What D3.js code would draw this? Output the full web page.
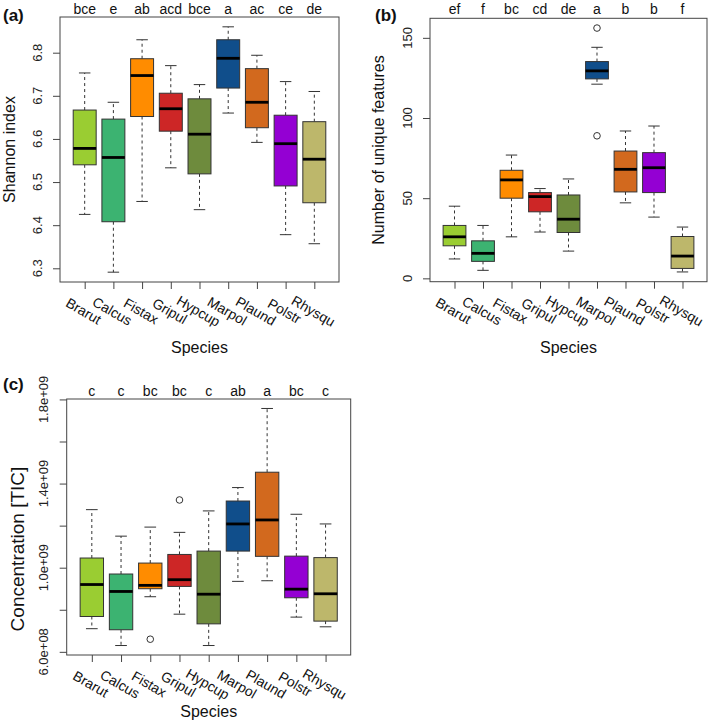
<!DOCTYPE html>
<html>
<head>
<meta charset="utf-8">
<script src="https://cdn.jsdelivr.net/npm/d3@7/dist/d3.min.js"></script>
<style>
  html, body { margin: 0; padding: 0; background: #fff; }
  svg { display: block; font-family: "Liberation Sans", Arial, Helvetica, sans-serif; }
</style>
</head>
<body>
<svg id="chart" width="709" height="724"></svg>
<script>
// ---------- data ----------
const categories = ["Brarut","Calcus","Fistax","Gripul","Hypcup","Marpol","Plaund","Polstr","Rhysqu"];
const boxColors = ["#9ACD32","#3CB371","#FF8C00","#CD2626","#6E8B3D","#104E8B","#D2691E","#9400D3","#BDB76B"];

// (a) Shannon index
const shannonLow  = [6.425, 6.291, 6.455, 6.533, 6.436, 6.660, 6.592, 6.378, 6.357];
const shannonQ1   = [6.540, 6.408, 6.652, 6.618, 6.519, 6.718, 6.626, 6.491, 6.452];
const shannonMed  = [6.578, 6.557, 6.747, 6.670, 6.611, 6.787, 6.685, 6.589, 6.553];
const shannonQ3   = [6.667, 6.646, 6.786, 6.706, 6.693, 6.830, 6.763, 6.655, 6.640];
const shannonHigh = [6.753, 6.685, 6.830, 6.770, 6.726, 6.860, 6.794, 6.733, 6.710];
const shannonOut  = [[], [], [], [], [], [], [], [], []];
const shannonLetters = ["bce","e","ab","acd","bce","a","ac","ce","de"];
const shannonTicks = [6.3, 6.4, 6.5, 6.6, 6.7, 6.8];
const shannonTickLabels = ["6.3","6.4","6.5","6.6","6.7","6.8"];

// (b) Number of unique features
const featLow  = [12.1, 5.0, 25.9, 28.9, 17.0, 121.1, 47.1, 38.2, 4.0];
const featQ1   = [20.3, 10.6, 50.0, 41.5, 28.6, 124.4, 53.9, 53.5, 6.2];
const featMed  = [25.9, 15.6, 61.4, 51.0, 36.9, 129.4, 68.0, 69.0, 13.9];
const featQ3   = [33.0, 23.4, 67.4, 53.5, 52.0, 135.2, 79.4, 78.4, 26.1];
const featHigh = [45.0, 33.0, 76.9, 56.0, 62.0, 144.1, 91.9, 95.0, 32.0];
const featOut  = [[], [], [], [], [], [156.1, 88.9], [], [], []];
const featLetters = ["ef","f","bc","cd","de","a","b","b","f"];
const featTicks = [0, 50, 100, 150];
const featTickLabels = ["0","50","100","150"];

// (c) Concentration [TIC]
const ticLow  = [0.710e9, 0.630e9, 0.862e9, 0.779e9, 0.630e9, 0.935e9, 0.938e9, 0.765e9, 0.719e9];
const ticQ1   = [0.768e9, 0.705e9, 0.900e9, 0.911e9, 0.733e9, 1.079e9, 1.054e9, 0.857e9, 0.746e9];
const ticMed  = [0.920e9, 0.887e9, 0.916e9, 0.943e9, 0.874e9, 1.208e9, 1.227e9, 0.898e9, 0.876e9];
const ticQ3   = [1.046e9, 0.970e9, 1.022e9, 1.063e9, 1.079e9, 1.317e9, 1.454e9, 1.055e9, 1.048e9];
const ticHigh = [1.276e9, 1.150e9, 1.193e9, 1.168e9, 1.270e9, 1.381e9, 1.757e9, 1.254e9, 1.208e9];
const ticOut  = [[], [], [0.660e9], [1.322e9], [], [], [], [], []];
const ticLetters = ["c","c","bc","bc","c","ab","a","bc","c"];
const ticTicks = [6e8, 8e8, 1.0e9, 1.2e9, 1.4e9, 1.6e9, 1.8e9];
const ticTickLabels = ["6.0e+08","","1.0e+09","","1.4e+09","","1.8e+09"];

// ---------- drawing ----------
const svg = d3.select("#chart");
const INK = "#333";

function panel(cfg) {
  const g = svg.append("g");
  const n = categories.length;
  const x = d3.scaleLinear().domain([0.5 - 0.04 * n, n + 0.5 + 0.04 * n]).range([cfg.left, cfg.right]);
  const all = [].concat(cfg.low, cfg.high, cfg.q1, cfg.q3, cfg.out.flat());
  const ext = d3.extent(all);
  const pad = (ext[1] - ext[0]) * 0.04;
  const y = d3.scaleLinear().domain([ext[0] - pad, ext[1] + pad]).range([cfg.bottom, cfg.top]);
  const bw = (x(1) - x(0)) * 0.8;
  const sw = bw * 0.5;

  categories.forEach((c, i) => {
    const cx = x(i + 1);
    g.append("line").attr("x1", cx).attr("x2", cx).attr("y1", y(cfg.q3[i])).attr("y2", y(cfg.high[i]))
      .attr("stroke", INK).attr("stroke-width", 1).attr("stroke-dasharray", "3,3");
    g.append("line").attr("x1", cx).attr("x2", cx).attr("y1", y(cfg.q1[i])).attr("y2", y(cfg.low[i]))
      .attr("stroke", INK).attr("stroke-width", 1).attr("stroke-dasharray", "3,3");
    [cfg.high[i], cfg.low[i]].forEach(v => {
      g.append("line").attr("x1", cx - sw / 2).attr("x2", cx + sw / 2).attr("y1", y(v)).attr("y2", y(v))
        .attr("stroke", INK).attr("stroke-width", 1);
    });
    g.append("rect").attr("x", cx - bw / 2).attr("width", bw)
      .attr("y", y(cfg.q3[i])).attr("height", y(cfg.q1[i]) - y(cfg.q3[i]))
      .attr("fill", boxColors[i]).attr("stroke", INK).attr("stroke-width", 1);
    g.append("line").attr("x1", cx - bw / 2).attr("x2", cx + bw / 2)
      .attr("y1", y(cfg.med[i])).attr("y2", y(cfg.med[i]))
      .attr("stroke", "#000").attr("stroke-width", 2.8);
    cfg.out[i].forEach(v => {
      g.append("circle").attr("cx", cx).attr("cy", y(v)).attr("r", 3.3)
        .attr("fill", "none").attr("stroke", INK).attr("stroke-width", 1);
    });
    g.append("text").attr("x", cx).attr("y", cfg.letterY).attr("text-anchor", "middle")
      .attr("font-size", 14).attr("fill", "#111").text(cfg.letters[i]);
  });

  g.append("rect").attr("x", cfg.left).attr("y", cfg.top)
    .attr("width", cfg.right - cfg.left).attr("height", cfg.bottom - cfg.top)
    .attr("fill", "none").attr("stroke", "#444").attr("stroke-width", 1);

  const yAxis = d3.axisLeft(y).tickValues(cfg.ticks).tickSize(7).tickFormat("");
  const ya = g.append("g").attr("transform", `translate(${cfg.left},0)`).call(yAxis);
  ya.select(".domain").remove();
  ya.selectAll(".tick line").attr("stroke", "#444");
  cfg.ticks.forEach((t, k) => {
    if (!cfg.tickLabels[k]) return;
    g.append("text")
      .attr("transform", `translate(${cfg.left - 18.5},${y(t)}) rotate(-90)`)
      .attr("text-anchor", "middle").attr("font-size", 13).attr("fill", "#222")
      .text(cfg.tickLabels[k]);
  });

  const xAxis = d3.axisBottom(x).tickValues(d3.range(1, n + 1)).tickSize(7).tickFormat("");
  const xa = g.append("g").attr("transform", `translate(0,${cfg.bottom})`).call(xAxis);
  xa.select(".domain").remove();
  xa.selectAll(".tick line").attr("stroke", "#444");
  categories.forEach((c, i) => {
    g.append("text")
      .attr("transform", `translate(${x(i + 1) - 1},${cfg.bottom + 29}) rotate(30)`)
      .attr("text-anchor", "middle").attr("dominant-baseline", "central")
      .attr("font-size", 14).attr("fill", "#111").text(c);
  });

  g.append("text").attr("x", (cfg.left + cfg.right) / 2).attr("y", cfg.xTitleY)
    .attr("text-anchor", "middle").attr("font-size", 16).attr("fill", "#111").text("Species");
  g.append("text")
    .attr("transform", `translate(${cfg.yTitleX},${cfg.yTitleY}) rotate(-90)`)
    .attr("text-anchor", "middle").attr("font-size", cfg.yTitleSize).attr("fill", "#111").text(cfg.yTitle);

  g.append("text").attr("x", cfg.tagX).attr("y", cfg.tagY).attr("font-size", 17)
    .attr("font-weight", "bold").attr("fill", "#111").text(cfg.tag);
}

panel({
  left: 60, right: 339, top: 17, bottom: 282,
  low: shannonLow, q1: shannonQ1, med: shannonMed, q3: shannonQ3, high: shannonHigh, out: shannonOut,
  letters: shannonLetters, letterY: 14, ticks: shannonTicks, tickLabels: shannonTickLabels,
  yTitle: "Shannon index", yTitleX: 15, yTitleY: 149.5, yTitleSize: 16,
  xTitleY: 353, tag: "(a)", tagX: 3, tagY: 21
});
panel({
  left: 430, right: 707, top: 18.3, bottom: 281.7,
  low: featLow, q1: featQ1, med: featMed, q3: featQ3, high: featHigh, out: featOut,
  letters: featLetters, letterY: 14, ticks: featTicks, tickLabels: featTickLabels,
  yTitle: "Number of unique features", yTitleX: 384, yTitleY: 150, yTitleSize: 16,
  xTitleY: 353, tag: "(b)", tagX: 375, tagY: 21
});
panel({
  left: 66.7, right: 350.7, top: 399, bottom: 655,
  low: ticLow, q1: ticQ1, med: ticMed, q3: ticQ3, high: ticHigh, out: ticOut,
  letters: ticLetters, letterY: 396, ticks: ticTicks, tickLabels: ticTickLabels,
  yTitle: "Concentration [TIC]", yTitleX: 24, yTitleY: 549, yTitleSize: 19,
  xTitleY: 717, tag: "(c)", tagX: 3, tagY: 390
});
</script>
</body>
</html>
